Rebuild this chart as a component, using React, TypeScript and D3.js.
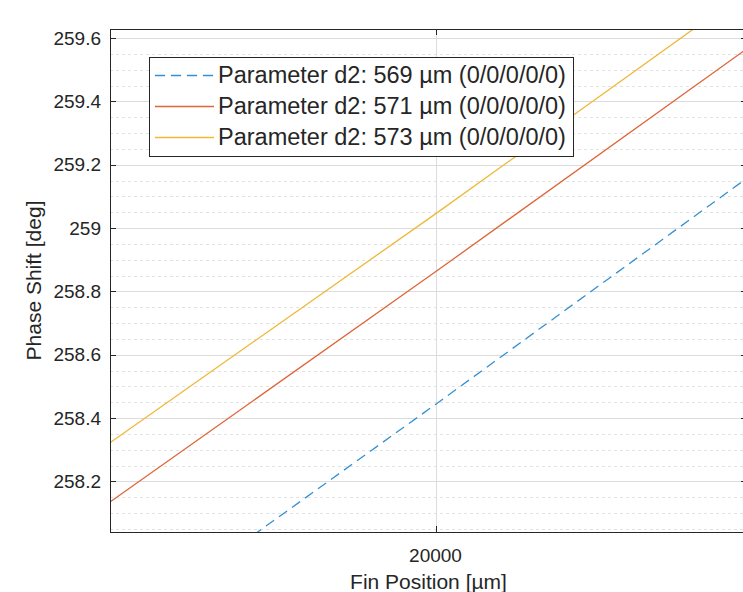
import React, { useEffect, useRef } from 'react';
import * as d3 from 'd3';

// Fin position samples (µm)
const finPositions = [19489, 20000, 20489];

// Phase shift for each d2 value (deg)
const phase569 = [257.705, 258.443, 259.158];
const phase571 = [258.135, 258.862, 259.567];
const phase573 = [258.322, 259.045, 259.75];

const seriesLabels = [
  'Parameter d2: 569 µm (0/0/0/0/0)',
  'Parameter d2: 571 µm (0/0/0/0/0)',
  'Parameter d2: 573 µm (0/0/0/0/0)'
];

const xTicks = [20000];
const yTicks = [258.2, 258.4, 258.6, 258.8, 259, 259.2, 259.4, 259.6];

const App = () => {
  const ref = useRef<SVGSVGElement | null>(null);

  useEffect(() => {
    document.body.style.margin = '0';
    const width = 743;
    const height = 592;
    const margin = { left: 110, top: 29, right: 747, bottom: 532 };
    const axisColor = '#262626';
    const font = '"Liberation Sans", Arial, sans-serif';

    const svg = d3.select(ref.current);
    svg.selectAll('*').remove();
    svg.attr('width', width).attr('height', height);

    const x = d3.scaleLinear().domain([19489, 20489]).range([margin.left, margin.right]);
    const y = d3.scaleLinear().domain([258.04, 259.629]).range([margin.bottom, margin.top]);

    svg.append('defs').append('clipPath').attr('id', 'plot-clip')
      .append('rect')
      .attr('x', margin.left).attr('y', margin.top)
      .attr('width', margin.right - margin.left).attr('height', margin.bottom - margin.top);

    // minor grid
    const minorTicks = d3.range(258.05, 259.63, 0.05).filter(v => Math.abs(v * 5 - Math.round(v * 5)) > 1e-6);
    svg.append('g').selectAll('line').data(minorTicks).enter().append('line')
      .attr('x1', margin.left).attr('x2', margin.right)
      .attr('y1', d => Math.round(y(d)) + 0.5).attr('y2', d => Math.round(y(d)) + 0.5)
      .attr('stroke', '#e2e2e2').attr('stroke-width', 1).attr('stroke-dasharray', '3 3');

    // major grid
    svg.append('g').selectAll('line').data(yTicks).enter().append('line')
      .attr('x1', margin.left).attr('x2', margin.right)
      .attr('y1', d => Math.round(y(d)) + 0.5).attr('y2', d => Math.round(y(d)) + 0.5)
      .attr('stroke', '#dcdcdc').attr('stroke-width', 1);
    svg.append('g').selectAll('line').data(xTicks).enter().append('line')
      .attr('y1', margin.top).attr('y2', margin.bottom)
      .attr('x1', d => Math.round(x(d)) + 0.5).attr('x2', d => Math.round(x(d)) + 0.5)
      .attr('stroke', '#dcdcdc').attr('stroke-width', 1);

    // lines
    const line = d3.line<number>().x((_, i) => x(finPositions[i])).y(d => y(d));
    const series = [
      { values: phase569, color: '#3590d2', dash: '10 6' },
      { values: phase571, color: '#df6638', dash: null },
      { values: phase573, color: '#eeb838', dash: null }
    ];
    const plot = svg.append('g').attr('clip-path', 'url(#plot-clip)');
    series.forEach(s => {
      plot.append('path')
        .attr('d', line(s.values) as string)
        .attr('fill', 'none')
        .attr('stroke', s.color)
        .attr('stroke-width', 1.3)
        .attr('stroke-dasharray', s.dash);
    });

    // axes box
    svg.append('rect')
      .attr('x', margin.left + 0.5).attr('y', margin.top + 0.5)
      .attr('width', margin.right - margin.left).attr('height', margin.bottom - margin.top)
      .attr('fill', 'none').attr('stroke', axisColor).attr('stroke-width', 1);

    // ticks
    const tickLen = 6;
    yTicks.forEach(t => {
      const yy = Math.round(y(t)) + 0.5;
      svg.append('line').attr('x1', margin.left).attr('x2', margin.left + tickLen)
        .attr('y1', yy).attr('y2', yy).attr('stroke', axisColor);
      svg.append('line').attr('x1', margin.right - tickLen).attr('x2', margin.right)
        .attr('y1', yy).attr('y2', yy).attr('stroke', axisColor);
      svg.append('text')
        .attr('x', 101).attr('y', y(t))
        .attr('dy', '0.35em')
        .attr('text-anchor', 'end')
        .style('font-family', font).style('font-size', '19px').style('fill', axisColor)
        .text(d3.format('~g')(t));
    });
    xTicks.forEach(t => {
      const xx = Math.round(x(t)) + 0.5;
      svg.append('line').attr('x1', xx).attr('x2', xx)
        .attr('y1', margin.bottom).attr('y2', margin.bottom - tickLen).attr('stroke', axisColor);
      svg.append('line').attr('x1', xx).attr('x2', xx)
        .attr('y1', margin.top).attr('y2', margin.top + tickLen).attr('stroke', axisColor);
      svg.append('text')
        .attr('x', x(t)).attr('y', 562)
        .attr('text-anchor', 'middle')
        .style('font-family', font).style('font-size', '19px').style('fill', axisColor)
        .text(String(t));
    });

    // axis labels
    svg.append('text')
      .attr('x', (margin.left + margin.right) / 2).attr('y', 589)
      .attr('text-anchor', 'middle')
      .style('font-family', font).style('font-size', '21px').style('fill', axisColor)
      .text('Fin Position [µm]');
    svg.append('text')
      .attr('transform', `translate(41, ${(margin.top + margin.bottom) / 2}) rotate(-90)`)
      .attr('text-anchor', 'middle')
      .style('font-family', font).style('font-size', '21px').style('fill', axisColor)
      .text('Phase Shift [deg]');

    // legend
    const legend = svg.append('g');
    legend.append('rect')
      .attr('x', 149.5).attr('y', 57.5).attr('width', 424).attr('height', 99)
      .attr('fill', 'white').attr('stroke', axisColor).attr('stroke-width', 1);
    const rowY = [75, 106, 137];
    series.forEach((s, i) => {
      legend.append('line')
        .attr('x1', 155).attr('x2', 214)
        .attr('y1', rowY[i] + 0.5).attr('y2', rowY[i] + 0.5)
        .attr('stroke', s.color).attr('stroke-width', 1.3)
        .attr('stroke-dasharray', s.dash);
      legend.append('text')
        .attr('x', 218).attr('y', rowY[i])
        .attr('dy', '0.35em')
        .style('font-family', font).style('font-size', '23.5px').style('fill', axisColor)
        .text(seriesLabels[i]);
    });
  }, []);

  return <svg ref={ref} style={{ display: 'block' }} />;
};

export default App;
